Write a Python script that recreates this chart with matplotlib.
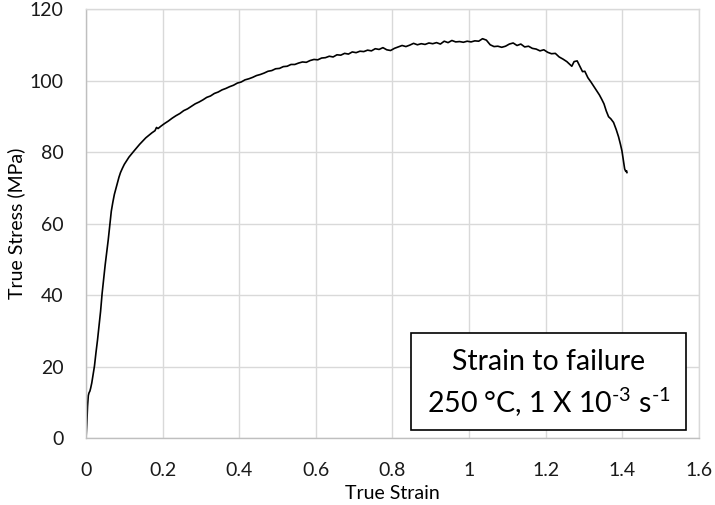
import matplotlib
matplotlib.use("Agg")
import matplotlib.pyplot as plt
from matplotlib.patches import Rectangle

plt.rcParams['font.family'] = ['Lato', 'DejaVu Sans']
plt.rcParams['mathtext.fontset'] = 'custom'
plt.rcParams['mathtext.rm'] = 'Lato'
plt.rcParams['mathtext.default'] = 'regular'

# true strain / true stress (MPa)
strain = [0, 0.002, 0.004, 0.006, 0.008, 0.010, 0.012, 0.015, 0.018, 0.022,
          0.026, 0.030, 0.034, 0.038, 0.042, 0.046, 0.050, 0.054, 0.058, 0.062,
          0.066, 0.070, 0.074, 0.078, 0.082, 0.086, 0.090, 0.095, 0.100, 0.106,
          0.112, 0.118, 0.125, 0.132, 0.140, 0.148, 0.156, 0.164, 0.172, 0.180,
          0.184, 0.188, 0.196, 0.205, 0.215, 0.225, 0.235, 0.245, 0.255, 0.265,
          0.275, 0.285, 0.295, 0.305, 0.315, 0.325, 0.335, 0.345, 0.355, 0.365,
          0.375, 0.385, 0.395, 0.405, 0.415, 0.425, 0.435, 0.445, 0.455, 0.465,
          0.475, 0.485, 0.495, 0.505, 0.515, 0.525, 0.535, 0.545, 0.555, 0.565,
          0.575, 0.585, 0.595, 0.605, 0.615, 0.625, 0.635, 0.645, 0.655, 0.665,
          0.675, 0.685, 0.695, 0.705, 0.715, 0.725, 0.735, 0.745, 0.755, 0.765,
          0.775, 0.785, 0.795, 0.805, 0.815, 0.825, 0.835, 0.845, 0.855, 0.865,
          0.875, 0.885, 0.895, 0.905, 0.915, 0.925, 0.935, 0.945, 0.955, 0.965,
          0.975, 0.985, 0.995, 1.005, 1.015, 1.025, 1.035, 1.045, 1.055, 1.065,
          1.075, 1.085, 1.095, 1.105, 1.115, 1.125, 1.135, 1.145, 1.155, 1.165,
          1.175, 1.185, 1.195, 1.205, 1.215, 1.225, 1.235, 1.245, 1.255, 1.262,
          1.268, 1.274, 1.282, 1.290, 1.296, 1.302, 1.310, 1.318, 1.326, 1.333,
          1.340, 1.346, 1.352, 1.358, 1.364, 1.370, 1.377, 1.384, 1.390, 1.395,
          1.399, 1.403, 1.406, 1.409, 1.411, 1.412]
stress = [0, 4.0, 9.0, 12.0, 12.8, 13.2, 14.0, 15.5, 17.5, 20.2,
          24.0, 27.5, 31.5, 35.5, 40.5, 44.5, 48.5, 52.0, 55.5, 59.5,
          63.5, 66.0, 68.2, 69.8, 71.5, 73.0, 74.3, 75.5, 76.6, 77.6,
          78.6, 79.4, 80.3, 81.2, 82.2, 83.1, 84.0, 84.7, 85.4, 86.0,
          86.9, 86.6, 87.3, 88.0, 88.7, 89.5, 90.2, 90.8, 91.6, 92.1,
          92.8, 93.5, 94.0, 94.6, 95.3, 95.7, 96.4, 96.8, 97.4, 97.8,
          98.3, 98.7, 99.3, 99.6, 100.2, 100.5, 100.9, 101.4, 101.7, 102.1,
          102.6, 102.8, 103.3, 103.4, 103.9, 104.0, 104.5, 104.5, 104.9, 105.2,
          105.1, 105.6, 105.9, 105.8, 106.3, 106.4, 106.8, 106.6, 107.2, 107.1,
          107.6, 107.4, 108.0, 107.8, 108.2, 108.1, 108.5, 108.3, 108.9, 108.7,
          109.2, 108.6, 108.4, 109.0, 109.4, 109.8, 109.5, 109.9, 110.4, 110.0,
          110.3, 110.1, 110.5, 110.3, 110.6, 110.2, 111.0, 110.6, 111.2, 110.8,
          110.9, 110.7, 111.0, 110.8, 111.1, 111.0, 111.7, 111.3, 110.0, 109.5,
          109.6, 109.3, 109.6, 110.2, 110.5, 109.8, 110.2, 109.4, 109.6, 109.0,
          108.8, 108.3, 108.6, 107.9, 107.5, 107.6, 106.6, 106.0, 105.3, 104.6,
          104.0, 105.3, 105.5, 103.8, 102.5, 102.6, 100.8, 99.6, 98.3, 97.2,
          96.0, 94.8, 93.5, 91.5, 89.9, 89.3, 88.3, 86.3, 84.3, 82.2,
          80.3, 77.5, 75.3, 74.6, 74.8, 74.3]

x_ticks = [0, 0.2, 0.4, 0.6, 0.8, 1, 1.2, 1.4, 1.6]
x_labels = ["0", "0.2", "0.4", "0.6", "0.8", "1", "1.2", "1.4", "1.6"]
y_ticks = [0, 20, 40, 60, 80, 100, 120]

fig = plt.figure(figsize=(7.15, 5.05), dpi=100)
ax = fig.add_axes([0.1203, 0.1317, 0.8573, 0.8505])

ax.plot(strain, stress, color='black', lw=1.2)

ax.set_xlim(0, 1.6)
ax.set_ylim(0, 120)
ax.set_xticks(x_ticks)
ax.set_xticklabels(x_labels)
ax.set_yticks(y_ticks)
ax.grid(True, color='#d9d9d9', lw=1.0)
ax.set_axisbelow(True)
ax.tick_params(length=0, labelsize=14, colors='#1a1a1a')
ax.tick_params(axis='x', pad=17)
ax.tick_params(axis='y', pad=16)
for s in ['top', 'right']:
    ax.spines[s].set_color('#d9d9d9')
for s in ['left', 'bottom']:
    ax.spines[s].set_color('#bfbfbf')
for s in ax.spines.values():
    s.set_linewidth(1.0)

ax.set_xlabel("True Strain", fontsize=14, labelpad=4)
ax.set_ylabel("True Stress (MPa)", fontsize=14, labelpad=3)

# annotation box
fig.patches.append(Rectangle((0.5748, 0.1485), 0.3846, 0.1921, transform=fig.transFigure,
                             facecolor='white', edgecolor='black', lw=1.2, zorder=5))
fig.text(0.767, 0.2832, "Strain to failure", fontsize=20.5, ha='center', va='center', zorder=6)
fig.text(0.767, 0.204, "250 °C, 1 X 10$^{\u20103}$ s$^{\u20101}$", fontsize=20.5,
         ha='center', va='center', zorder=6)

fig.savefig("out.png", dpi=100)
